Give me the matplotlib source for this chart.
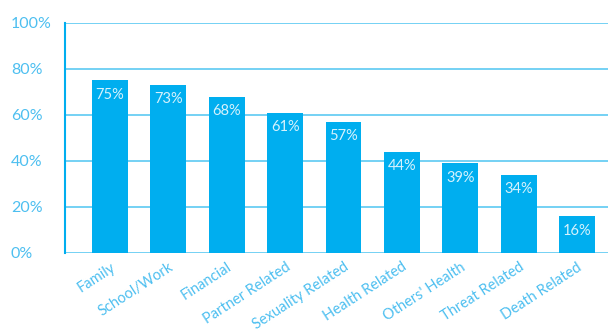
import matplotlib.pyplot as plt

categories = ["Family", "School/Work", "Financial", "Partner Related",
              "Sexuality Related", "Health Related", "Others' Health",
              "Threat Related", "Death Related"]
shares = [75, 73, 68, 61, 57, 44, 39, 34, 16]
y_ticks = [0, 20, 40, 60, 80, 100]

BAR = "#00AEEF"
TEXT = "#4DBFF0"
GRID = "#5CC9F2"

plt.rcParams.update({
    "font.family": ["Lato", "DejaVu Sans"],
    "font.size": 10,
})

fig = plt.figure(figsize=(6.08, 3.31), dpi=100)
ax = fig.add_axes([65 / 608, 1 - 253 / 331, 1 - 65 / 608, 230 / 331])

x = list(range(len(categories)))
bars = ax.bar(x, shares, width=0.616, color=BAR, zorder=3)

# value labels sit just inside the top of each bar
for bar, val in zip(bars, shares):
    ax.text(bar.get_x() + bar.get_width() / 2, val - 3.2, f"{val}%",
            ha="center", va="top", color="#D6F2FD", fontsize=10.5, zorder=4)

ax.set_xlim(-0.77, 8.53)
ax.set_ylim(0, 100)
ax.set_yticks(y_ticks)
ax.set_yticklabels([f"{t}%" for t in y_ticks], color=TEXT, fontsize=11.5,
                   ha="left")
ax.set_xticks(x)
ax.set_xticklabels(categories, rotation=33, ha="right", rotation_mode="anchor",
                   color=TEXT, fontsize=10.5)
ax.tick_params(axis="y", length=0, pad=39)
ax.tick_params(axis="x", length=0, pad=5)

ax.grid(axis="y", color=GRID, linewidth=1.2, zorder=1)
ax.set_axisbelow(True)
for side in ("top", "right", "bottom"):
    ax.spines[side].set_visible(False)
ax.spines["left"].set_color(BAR)
ax.spines["left"].set_linewidth(1.5)

fig.savefig("out.png", dpi=100)
